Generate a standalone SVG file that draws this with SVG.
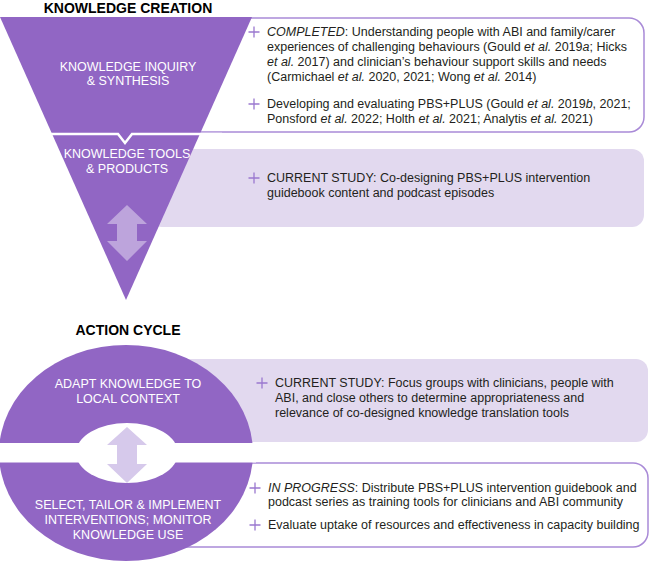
<svg xmlns="http://www.w3.org/2000/svg" xmlns:xlink="http://www.w3.org/1999/xlink" width="650" height="562" viewBox="0 0 650 562">
<style>
.title{font-family:"Liberation Sans",Arial,sans-serif;font-size:14px;font-weight:bold;fill:#000;text-anchor:middle}
.stage{font-family:"Liberation Sans",Arial,sans-serif;font-size:12.5px;fill:#fff;text-anchor:middle}
.body{font-family:"Liberation Sans",Arial,sans-serif;font-size:12.5px;fill:#231f20}
.it{font-style:italic}
.outline{fill:#fff;stroke:#a98ad7;stroke-width:1.5}
.filled{fill:#e2d9ef}
.purple{fill:#9166c4}
.plus{stroke:#9a78cf;stroke-width:1.3;fill:none}
</style>
<defs>
<path id="plus" class="plus" d="M-5.5,0H5.5M0,-5.5V5.5"/>
</defs>

<text class="title" x="128" y="12.5">KNOWLEDGE CREATION</text>
<text class="title" x="128" y="335">ACTION CYCLE</text>

<g id="box-completed">
<rect class="outline" x="150" y="18" width="494" height="114" rx="15"/>
<use xlink:href="#plus" x="254" y="32"/>
<text class="body" x="267" y="36"><tspan class="it">COMPLETED</tspan>: Understanding people with ABI and family/carer</text>
<text class="body" x="267" y="51">experiences of challenging behaviours (Gould <tspan class="it">et al.</tspan> 2019<tspan class="it">a</tspan>; Hicks</text>
<text class="body" x="267" y="66"><tspan class="it">et al.</tspan> 2017) and clinician’s behaviour support skills and needs</text>
<text class="body" x="267" y="81">(Carmichael <tspan class="it">et al.</tspan> 2020, 2021; Wong <tspan class="it">et al.</tspan> 2014)</text>
<use xlink:href="#plus" x="254" y="104"/>
<text class="body" x="267" y="108">Developing and evaluating PBS+PLUS (Gould <tspan class="it">et al.</tspan> 2019<tspan class="it">b</tspan>, 2021;</text>
<text class="body" x="267" y="123">Ponsford <tspan class="it">et al.</tspan> 2022; Holth <tspan class="it">et al.</tspan> 2021; Analytis <tspan class="it">et al.</tspan> 2021)</text>
</g>

<g id="box-codesign">
<rect class="filled" x="150" y="149" width="494" height="78" rx="12"/>
<use xlink:href="#plus" x="254" y="178"/>
<text class="body" x="267" y="182">CURRENT STUDY: Co-designing PBS+PLUS intervention</text>
<text class="body" x="267" y="197">guidebook content and podcast episodes</text>
</g>

<g id="funnel">
<polygon class="purple" points="0,17 252,17 126,300"/>
<polyline points="30,134 118,134 125,143 132,134 222,134" fill="none" stroke="#fff" stroke-width="2.5"/>
<text class="stage" x="128" y="71">KNOWLEDGE INQUIRY</text>
<text class="stage" x="128" y="85">&amp; SYNTHESIS</text>
<text class="stage" x="127" y="158">KNOWLEDGE TOOLS</text>
<text class="stage" x="127" y="173">&amp; PRODUCTS</text>
</g>

<g id="box-focus">
<rect class="filled" x="150" y="359" width="498" height="83" rx="12"/>
<use xlink:href="#plus" x="262" y="383"/>
<text class="body" x="275" y="387">CURRENT STUDY: Focus groups with clinicians, people with</text>
<text class="body" x="275" y="402">ABI, and close others to determine appropriateness and</text>
<text class="body" x="275" y="417">relevance of co-designed knowledge translation tools</text>
</g>

<g id="box-progress">
<rect class="outline" x="150" y="463" width="498" height="84" rx="15"/>
<use xlink:href="#plus" x="255" y="488"/>
<text class="body" x="268" y="492"><tspan class="it">IN PROGRESS</tspan>: Distribute PBS+PLUS intervention guidebook and</text>
<text class="body" x="268" y="506">podcast series as training tools for clinicians and ABI community</text>
<use xlink:href="#plus" x="255" y="525"/>
<text class="body" x="268" y="529">Evaluate uptake of resources and effectiveness in capacity building</text>
</g>

<g id="action-cycle">
<ellipse class="purple" cx="126" cy="453" rx="127" ry="108"/>
<rect x="0" y="443" width="256" height="19.5" fill="#fff"/>
<ellipse cx="127" cy="453" rx="51" ry="30" fill="#fff"/>
<text class="stage" x="128" y="388">ADAPT KNOWLEDGE TO</text>
<text class="stage" x="128" y="403">LOCAL CONTEXT</text>
<text class="stage" x="128" y="509">SELECT, TAILOR &amp; IMPLEMENT</text>
<text class="stage" x="128" y="524">INTERVENTIONS; MONITOR</text>
<text class="stage" x="128" y="539">KNOWLEDGE USE</text>
</g>

<g id="connectors">
<polygon fill="#bda4dc" points="127,205 147,224 137,224 137,241 147,241 127,261 107,241 117,241 117,224 107,224"/>
<polygon fill="#d6c9eb" points="127,427 147,445 137,445 137,464 147,464 127,483 107,464 117,464 117,445 107,445"/>
</g>
</svg>
